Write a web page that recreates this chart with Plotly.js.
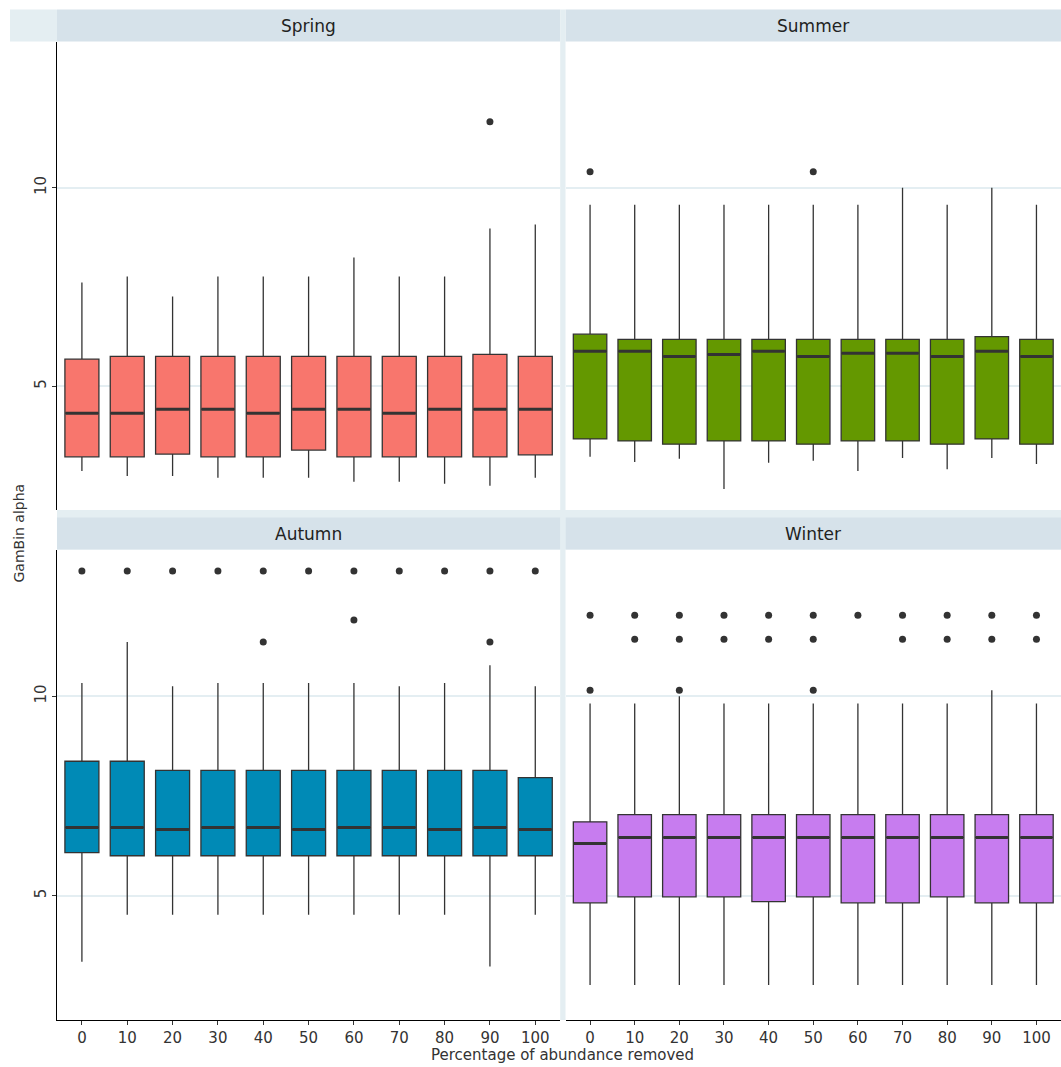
<!DOCTYPE html>
<html><head><meta charset="utf-8">
<script src="https://cdn.plot.ly/plotly-3.0.0.min.js"></script>
<style>body{margin:0}</style></head>
<body><div id="chart" style="width:1061px;height:1067px"></div>
<script>
var cats = ['0','10','20','30','40','50','60','70','80','90','100'];

// Spring
var springLow = [2.86,2.74,2.74,2.69,2.69,2.69,2.59,2.59,2.54,2.49,2.69];
var springQ1  = [3.22,3.22,3.29,3.22,3.22,3.39,3.22,3.22,3.22,3.22,3.27];
var springMed = [4.32,4.32,4.42,4.42,4.32,4.42,4.42,4.32,4.42,4.42,4.42];
var springQ3  = [5.68,5.75,5.75,5.75,5.75,5.75,5.75,5.75,5.75,5.80,5.75];
var springHigh= [7.61,7.76,7.26,7.76,7.76,7.76,8.24,7.76,7.76,8.97,9.07];
var springOutX = ['90'];
var springOutY = [11.66];

// Summer
var summerLow = [3.22,3.09,3.17,2.41,3.07,3.12,2.86,3.19,2.91,3.19,3.04];
var summerQ1  = [3.67,3.62,3.54,3.62,3.62,3.54,3.62,3.62,3.54,3.67,3.54];
var summerMed = [5.88,5.88,5.75,5.80,5.88,5.75,5.83,5.83,5.75,5.88,5.75];
var summerQ3  = [6.31,6.18,6.18,6.18,6.18,6.18,6.18,6.18,6.18,6.25,6.18];
var summerHigh= [9.57,9.57,9.57,9.57,9.57,9.57,9.57,10.0,9.57,10.0,9.57];
var summerOutX = ['0','50'];
var summerOutY = [10.4,10.4];

// Autumn
var autumnLow = [3.34,4.52,4.52,4.52,4.52,4.52,4.52,4.52,4.52,3.22,4.52];
var autumnQ1  = [6.08,6.00,6.00,6.00,6.00,6.00,6.00,6.00,6.00,6.00,6.00];
var autumnMed = [6.71,6.71,6.66,6.71,6.71,6.66,6.71,6.71,6.66,6.71,6.66];
var autumnQ3  = [8.37,8.37,8.14,8.14,8.14,8.14,8.14,8.14,8.14,8.14,7.96];
var autumnHigh= [10.33,11.36,10.25,10.33,10.33,10.33,10.33,10.25,10.33,10.78,10.25];
var autumnOutX = ['0','10','20','30','40','40','50','60','60','70','80','90','90','100'];
var autumnOutY = [13.14,13.14,13.14,13.14,13.14,11.36,13.14,13.14,11.91,13.14,13.14,13.14,11.36,13.14];

// Winter
var winterLow = [2.76,2.76,2.76,2.76,2.76,2.76,2.76,2.76,2.76,2.76,2.76];
var winterQ1  = [4.82,4.97,4.97,4.97,4.85,4.97,4.82,4.82,4.97,4.82,4.82];
var winterMed = [6.31,6.46,6.46,6.46,6.46,6.46,6.46,6.46,6.46,6.46,6.46];
var winterQ3  = [6.85,7.03,7.03,7.03,7.03,7.03,7.03,7.03,7.03,7.03,7.03];
var winterHigh= [9.82,9.82,10.0,9.82,9.82,9.82,9.82,9.82,9.82,10.15,9.82];
var winterOutX = ['0','0','10','10','20','20','20','30','30','40','40','50','50','50','60','70','70','80','80','90','90','100','100'];
var winterOutY = [12.03,10.15,12.03,11.43,12.03,11.43,10.15,12.03,11.43,12.03,11.43,12.03,11.43,10.15,12.03,12.03,11.43,12.03,11.43,12.03,11.43,12.03,11.43];

var panels = [
  {color:'#F8766D', low:springLow, q1:springQ1, med:springMed, q3:springQ3, high:springHigh, ox:springOutX, oy:springOutY, xa:'x', ya:'y'},
  {color:'#649800', low:summerLow, q1:summerQ1, med:summerMed, q3:summerQ3, high:summerHigh, ox:summerOutX, oy:summerOutY, xa:'x2', ya:'y2'},
  {color:'#008AB6', low:autumnLow, q1:autumnQ1, med:autumnMed, q3:autumnQ3, high:autumnHigh, ox:autumnOutX, oy:autumnOutY, xa:'x3', ya:'y3'},
  {color:'#C77CEF', low:winterLow, q1:winterQ1, med:winterMed, q3:winterQ3, high:winterHigh, ox:winterOutX, oy:winterOutY, xa:'x4', ya:'y4'}
];

var data = [];
panels.forEach(function (p) {
  data.push({
    type:'box', x:cats, q1:p.q1, median:p.med, q3:p.q3, lowerfence:p.low, upperfence:p.high,
    xaxis:p.xa, yaxis:p.ya, fillcolor:p.color, line:{color:'#333333', width:1.3},
    boxpoints:false, whiskerwidth:0, width:0.75, showlegend:false, hoverinfo:'skip'
  });
  // thicker median bar, like ggplot
  data.push({
    type:'box', x:cats, q1:p.med, median:p.med, q3:p.med, lowerfence:p.med, upperfence:p.med,
    xaxis:p.xa, yaxis:p.ya, fillcolor:'rgba(0,0,0,0)', line:{color:'#333333', width:3},
    boxpoints:false, whiskerwidth:0, width:0.72, showlegend:false, hoverinfo:'skip'
  });
  data.push({
    type:'scatter', mode:'markers', x:p.ox, y:p.oy, xaxis:p.xa, yaxis:p.ya,
    marker:{color:'#333333', size:7}, showlegend:false
  });
});

var xL = [0.0537, 0.528], xR = [0.533, 1.0];
var yT = [0.522, 0.961], yB = [0.044, 0.485];
var grid = '#e4eef2';
function xax(dom, anchor, showTicks) {
  return {domain:dom, anchor:anchor, type:'category', range:[-0.55,10.55], showgrid:false,
    showticklabels:showTicks, ticks:showTicks?'outside':'', ticklen:4, tickcolor:'#333',
    showline:showTicks, linecolor:'#000', linewidth:1, zeroline:false,
    tickfont:{size:15, color:'#333'}};
}
function yax(dom, anchor, showTicks) {
  return {domain:dom, anchor:anchor, range:[1.88,13.68], tickvals:[5,10], showgrid:true, gridcolor:grid, gridwidth:2,
    showticklabels:showTicks, ticks:showTicks?'outside':'', ticklen:4, tickcolor:'#333', tickangle:-90,
    showline:showTicks, linecolor:'#000', linewidth:1, zeroline:false,
    tickfont:{size:15, color:'#333'}};
}

var strips = [[xL,yT,'Spring'],[xR,yT,'Summer'],[xL,yB,'Autumn'],[xR,yB,'Winter']];
var shapes = [], annotations = [];
strips.forEach(function (s) {
  shapes.push({type:'rect', xref:'paper', yref:'paper', x0:s[0][0], x1:s[0][1], y0:s[1][1], y1:s[1][1]+0.03,
    fillcolor:'#d6e2ea', line:{width:0}});
  annotations.push({xref:'paper', yref:'paper', x:(s[0][0]+s[0][1])/2, y:s[1][1]+0.015, xanchor:'center', yanchor:'middle', text:s[2],
    showarrow:false, font:{size:17, color:'#222'}});
});
shapes.push({type:'rect', xref:'paper', yref:'paper', x0:0.528, x1:0.533, y0:0.044, y1:0.991, fillcolor:'#e4eef2', line:{width:0}});
shapes.push({type:'rect', xref:'paper', yref:'paper', x0:0.0537, x1:1, y0:0.485, y1:0.522, fillcolor:'#e4eef2', line:{width:0}, layer:'below'});
shapes.push({type:'rect', xref:'paper', yref:'paper', x0:0.0094, x1:0.0537, y0:0.961, y1:0.991, fillcolor:'#e4eef2', line:{width:0}});
annotations.push({xref:'paper', yref:'paper', x:0.53, y:0.001, xanchor:'center', yanchor:'bottom', text:'Percentage of abundance removed', showarrow:false, font:{size:15, color:'#333'}});
annotations.push({xref:'paper', yref:'paper', x:0.017, y:0.5, xanchor:'center', yanchor:'middle', text:'GamBin alpha', textangle:-90, showarrow:false, font:{size:14, color:'#333'}});

var layout = {
  width:1061, height:1067, margin:{l:0, r:0, t:0, b:0},
  paper_bgcolor:'#ffffff', plot_bgcolor:'#ffffff',
  font:{family:'DejaVu Sans'},
  xaxis:xax(xL,'y',false), yaxis:yax(yT,'x',true),
  xaxis2:xax(xR,'y2',false), yaxis2:yax(yT,'x2',false),
  xaxis3:xax(xL,'y3',true), yaxis3:yax(yB,'x3',true),
  xaxis4:xax(xR,'y4',true), yaxis4:yax(yB,'x4',false),
  shapes:shapes, annotations:annotations
};
Plotly.newPlot('chart', data, layout, {displayModeBar:false});
</script></body></html>
